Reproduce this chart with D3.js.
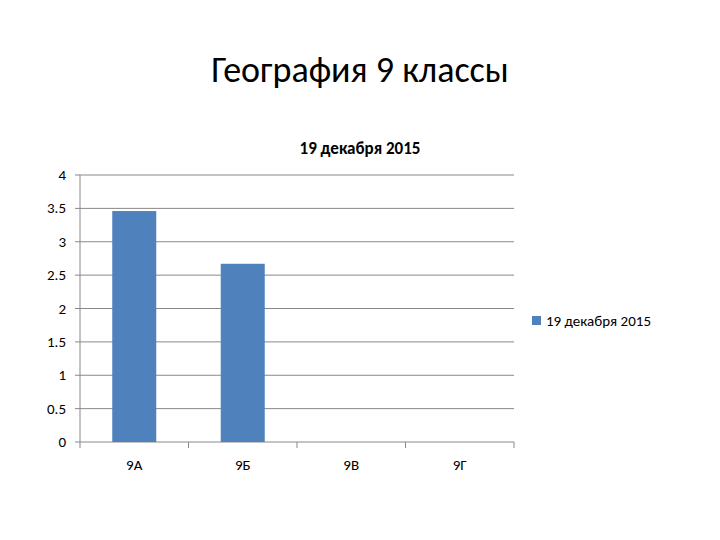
<!DOCTYPE html>
<html><head><meta charset="utf-8">
<script src="https://cdn.jsdelivr.net/npm/d3@7"></script>
<style>body{margin:0;background:#fff}</style>
</head><body>
<script>
const categories = ["9А","9Б","9В","9Г"];
const values = [3.46, 2.67, null, null];
const yTicks = [0,0.5,1,1.5,2,2.5,3,3.5,4];
const seriesName = "19 декабря 2015";
const titleText = "География 9 классы";
const subTitle = "19 декабря  2015";

const svg = d3.select("body").append("svg").attr("width",720).attr("height",540);
const font = "Calibri, Carlito, 'Liberation Sans', sans-serif";
svg.append("text").attr("x",360).attr("y",82).attr("text-anchor","middle")
  .attr("font-family",font).attr("font-size",36).attr("fill","#000").text(titleText);
svg.append("text").attr("x",360).attr("y",154).attr("text-anchor","middle")
  .attr("font-family",font).attr("font-size",17).attr("font-weight","bold").attr("fill","#000").text(subTitle);

const x = d3.scaleBand().domain(categories).range([80,514]).paddingInner(0.6).paddingOuter(0.3);
const xb = d3.scaleBand().domain(categories).range([80,514]);
const y = d3.scaleLinear().domain([0,4]).range([442,175]);

const g = svg.append("g");
g.selectAll("line.grid").data(yTicks).join("line")
  .attr("x1",80).attr("x2",514).attr("y1",d=>y(d)).attr("y2",d=>y(d))
  .attr("stroke","#888").attr("stroke-width",1);
g.append("line").attr("x1",80).attr("x2",80).attr("y1",175).attr("y2",442).attr("stroke","#888");
g.selectAll("line.tk").data(yTicks).join("line")
  .attr("x1",75).attr("x2",80).attr("y1",d=>y(d)).attr("y2",d=>y(d)).attr("stroke","#888");
categories.concat(["end"]).forEach((c,i)=>{
  const px = i<categories.length ? xb(c) : 514;
  g.append("line").attr("x1",px).attr("x2",px).attr("y1",442).attr("y2",448).attr("stroke","#888");
});
g.selectAll("text.yl").data(yTicks).join("text")
  .attr("x",66).attr("y",d=>y(d)+5).attr("text-anchor","end")
  .attr("font-family",font).attr("font-size",15).text(d=>d);
g.selectAll("text.xl").data(categories).join("text")
  .attr("x",d=>xb(d)+xb.bandwidth()/2).attr("y",470).attr("text-anchor","middle")
  .attr("font-family",font).attr("font-size",15).text(d=>d);

const bw = 44;
g.selectAll("rect.bar").data(categories.map((c,i)=>({c,v:values[i]})).filter(d=>d.v!=null)).join("rect")
  .attr("x",d=>xb(d.c)+xb.bandwidth()/2-bw/2).attr("width",bw)
  .attr("y",d=>y(d.v)).attr("height",d=>y(0)-y(d.v)).attr("fill","#4f81bd");

svg.append("rect").attr("x",532).attr("y",316).attr("width",9).attr("height",9).attr("fill","#4f81bd");
svg.append("text").attr("x",546).attr("y",326).attr("font-family",font).attr("font-size",15).text(seriesName);
</script>
</body></html>
